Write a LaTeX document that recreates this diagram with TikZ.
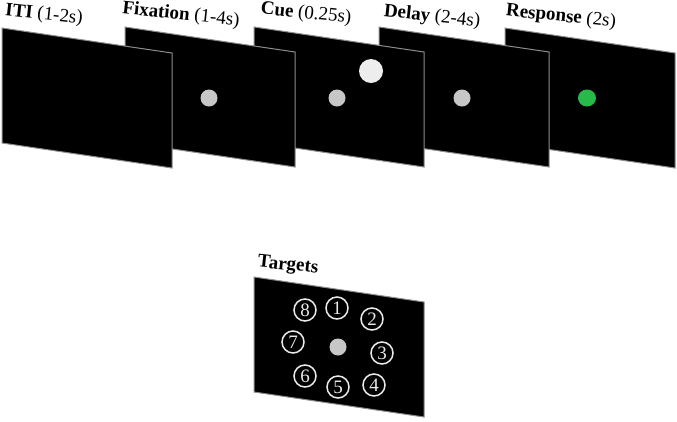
\documentclass[tikz,border=0pt]{standalone}
\usepackage{fontspec}
\usetikzlibrary{shapes.geometric}
\setmainfont{Liberation Serif}
\definecolor{gogreen}{RGB}{40,185,75}
\begin{document}
\begin{tikzpicture}[x=1pt,y=-1pt,
  screenbox/.style={fill=black,draw=black!45,line width=1pt},
  fixdot/.style={circle,fill=black!22,inner sep=0pt,minimum size=17pt},
  cuedot/.style={circle,fill=black!7,inner sep=0pt,minimum size=24pt},
  godot/.style={ellipse,fill=gogreen,inner sep=0pt,minimum width=18pt,minimum height=17pt},
  lab/.style={font=\fontsize{19}{22}\selectfont\upshape,rotate=-6,inner sep=0pt},
  target/.style={circle,draw=black!8,line width=1.5pt,text=black!8,minimum size=22pt,inner sep=0pt,font=\fontsize{19}{20}\selectfont}]
\useasboundingbox (0,0) rectangle (677,421);
\newcommand\drawscreen[2]{\filldraw[screenbox] (#1,#2) -- ++(170,25) -- ++(0,115) -- ++(-170,-25) -- cycle;}
% Response
\drawscreen{505}{28}
\node[godot] (resp) at (587,98) {};
% Delay
\drawscreen{379}{27}
\node[fixdot] (delay) at (462,98) {};
% Cue
\drawscreen{254}{27}
\node[fixdot] (cuefix) at (337,98) {};
\node[cuedot] (cue) at (371,71) {};
% Fixation
\drawscreen{125}{27}
\node[fixdot] (fix) at (209,98) {};
% ITI
\drawscreen{2}{28}
% labels
\node[lab] (l1) at (44,15) {\textbf{ITI} (1-2s)};
\node[lab] (l2) at (181,15) {\textbf{Fixation} (1-4s)};
\node[lab] (l3) at (306,14) {\textbf{Cue} (0.25s)};
\node[lab] (l4) at (432,17) {\textbf{Delay} (2-4s)};
\node[lab] (l5) at (561,17) {\textbf{Response} (2s)};
% Targets
\node[lab] (l6) at (288,266) {\textbf{Targets}};
\drawscreen{254}{277}
\node[fixdot] (tc) at (338,347) {};
\node[target] (t1) at (337,308) {1};
\node[target] (t2) at (372,319) {2};
\node[target] (t3) at (382,353) {3};
\node[target] (t4) at (374,385) {4};
\node[target] (t5) at (338,387) {5};
\node[target] (t6) at (305,376) {6};
\node[target] (t7) at (293,342) {7};
\node[target] (t8) at (305,310) {8};
\end{tikzpicture}
\end{document}
